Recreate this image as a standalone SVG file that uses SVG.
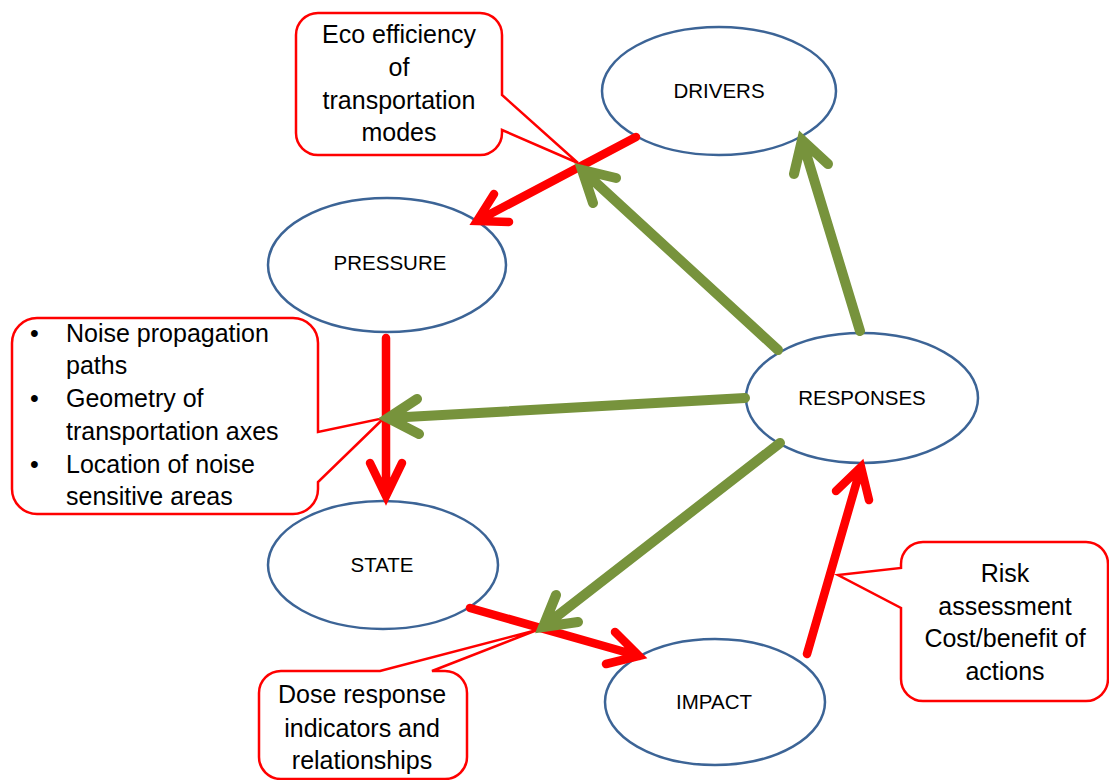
<svg xmlns="http://www.w3.org/2000/svg" width="1109" height="780" viewBox="0 0 1109 780">
<style>
.node{fill:#fff;stroke:#3C6496;stroke-width:2.5}
.lbl{font-family:"Liberation Sans",Arial,sans-serif;font-size:20.5px;fill:#000;text-anchor:middle}
.call{fill:#fff;stroke:#FF0000;stroke-width:2.5;stroke-linejoin:miter}
.ct{font-family:"Liberation Sans",Arial,sans-serif;font-size:25px;fill:#000;text-anchor:middle}
.bt{font-family:"Liberation Sans",Arial,sans-serif;font-size:25px;fill:#000}
.red{fill:none;stroke:#FF0000;stroke-width:8.5;stroke-linecap:round;stroke-linejoin:miter}
.green{fill:none;stroke:#77933C;stroke-width:10;stroke-linecap:round;stroke-linejoin:miter}
</style>
<rect width="1109" height="780" fill="#fff"/>
<g id="callout-eco">
<path class="call" d="M318,13 H480 A22,22 0 0 1 502,35 V95 L578,163 L502,130 V133 A22,22 0 0 1 480,155 H318 A22,22 0 0 1 296,133 V35 A22,22 0 0 1 318,13 Z"/>
<text class="ct" x="399" y="43">Eco efficiency</text>
<text class="ct" x="399" y="76">of</text>
<text class="ct" x="399" y="109">transportation</text>
<text class="ct" x="399" y="141">modes</text>
</g>
<g id="callout-noise">
<path class="call" d="M37,318 H293 A25,25 0 0 1 318,343 V432 L384,418 L318,482 V489 A25,25 0 0 1 293,514 H37 A25,25 0 0 1 12,489 V343 A25,25 0 0 1 37,318 Z"/>
<text class="bt" x="30" y="342">•</text>
<text class="bt" x="66" y="342">Noise propagation</text>
<text class="bt" x="66" y="374">paths</text>
<text class="bt" x="30" y="407">•</text>
<text class="bt" x="66" y="407">Geometry of</text>
<text class="bt" x="66" y="440">transportation axes</text>
<text class="bt" x="30" y="473">•</text>
<text class="bt" x="66" y="473">Location of noise</text>
<text class="bt" x="66" y="505">sensitive areas</text>
</g>
<g id="callout-dose">
<path class="call" d="M281,671 H380 L537,630 L432,671 H445 A22,22 0 0 1 467,693 V757 A22,22 0 0 1 445,779 H281 A22,22 0 0 1 259,757 V693 A22,22 0 0 1 281,671 Z"/>
<text class="ct" x="362" y="703">Dose response</text>
<text class="ct" x="362" y="737">indicators and</text>
<text class="ct" x="362" y="769">relationships</text>
</g>
<g id="callout-risk">
<path class="call" d="M923,542 H1086 A22,22 0 0 1 1108,564 V679 A22,22 0 0 1 1086,701 H923 A22,22 0 0 1 901,679 V608 L838,575 L901,568 V564 A22,22 0 0 1 923,542 Z"/>
<text class="ct" x="1005" y="582">Risk</text>
<text class="ct" x="1005" y="615">assessment</text>
<text class="ct" x="1005" y="647">Cost/benefit of</text>
<text class="ct" x="1005" y="680">actions</text>
</g>
<g id="drivers">
<ellipse class="node" cx="719" cy="91" rx="117" ry="64"/>
<text class="lbl" x="719" y="98">DRIVERS</text>
</g>
<g id="pressure">
<ellipse class="node" cx="387" cy="265" rx="119" ry="67"/>
<text class="lbl" x="390" y="270">PRESSURE</text>
</g>
<g id="responses">
<ellipse class="node" cx="862" cy="398" rx="116" ry="65"/>
<text class="lbl" x="862" y="405">RESPONSES</text>
</g>
<g id="state">
<ellipse class="node" cx="383" cy="565" rx="115" ry="64"/>
<text class="lbl" x="382" y="572">STATE</text>
</g>
<g id="impact">
<ellipse class="node" cx="715" cy="702" rx="110" ry="63"/>
<text class="lbl" x="714" y="709">IMPACT</text>
</g>
<g id="connectors">
<path class="red" d="M636,137 L477,221 M509,222 L477,221 L494,194"/>
<path class="red" d="M386,338 V496 M370,463 L386,496 L402,463"/>
<path class="red" d="M470,608 L639,656 M615,632 L639,656 L606,664"/>
<path class="red" d="M807,654 L861,467 M836,491 L861,467 L869,500"/>
<path class="green" d="M860,331 L802,140 M794,174 L802,140 L828,164"/>
<path class="green" d="M778,350 L582,170 M593,203 L582,170 L616,178"/>
<path class="green" d="M745,398 L388,418 M419,434 L388,418 L417,399"/>
<path class="green" d="M780,443 L543,627 M578,622 L543,627 L556,595"/>
</g>
</svg>
